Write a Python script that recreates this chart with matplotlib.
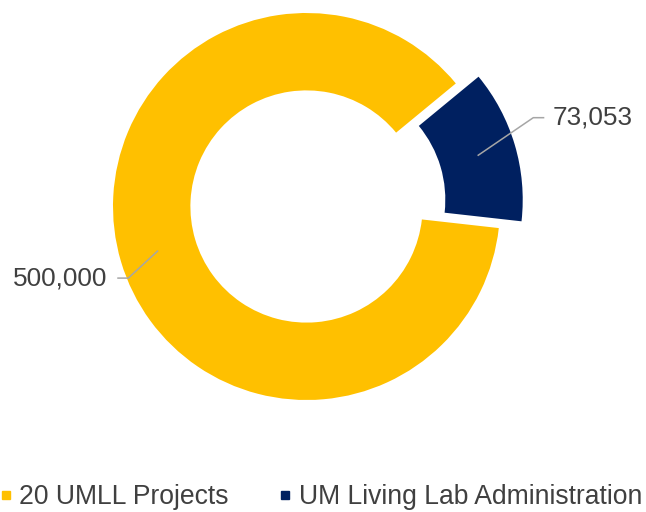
import numpy as np
import matplotlib
matplotlib.use("Agg")
import matplotlib.pyplot as plt
from matplotlib.lines import Line2D

categories = ["20 UMLL Projects", "UM Living Lab Administration"]
values = [500000, 73053]
value_labels = ["500,000", "73,053"]
colors = ["#FFC000", "#002060"]

plt.rcParams["font.family"] = ["Liberation Sans", "DejaVu Sans"]


def main():
    fig = plt.figure(figsize=(6.46, 5.12), dpi=100)
    ax = fig.add_axes([0, 0, 1, 1])

    explode = [0, 0.1225]
    wedges, _ = ax.pie(values, colors=colors, startangle=-6.4,
                       counterclock=False, explode=explode, radius=1.0,
                       wedgeprops=dict(width=0.4, linewidth=0))

    # pixel scale: 1 data unit = 193.5 px, pie centre at (306.5, 206.5)
    s = 193.5
    ax.set_xlim(-306.5 / s, (646 - 306.5) / s)
    ax.set_ylim(-(512 - 206.5) / s, 206.5 / s)
    ax.set_aspect("equal", adjustable="box")
    ax.axis("off")

    # leader lines and value labels
    elbows = [(-0.921, -0.370), (1.172, 0.459)]
    ends = [(-0.978, -0.370), (1.229, 0.459)]
    for w, lab, el, en in zip(wedges, value_labels, elbows, ends):
        mid = np.deg2rad((w.theta1 + w.theta2) / 2)
        cx, cy = w.center
        ax0 = cx + 0.8 * np.cos(mid)
        ay0 = cy + 0.8 * np.sin(mid)
        ax.plot([ax0, el[0], en[0]], [ay0, el[1], en[1]],
                color="#A6A6A6", lw=1.1, solid_capstyle="butt")
        if en[0] < 0:
            ax.text(en[0] - 0.05, en[1], lab, ha="right", va="center",
                    fontsize=18.8, color="#404040")
        else:
            ax.text(en[0] + 0.045, en[1], lab, ha="left", va="center",
                    fontsize=18.8, color="#404040")

    handles = [Line2D([], [], marker="s", ls="", color=c, markersize=5.2)
               for c in colors]
    fig.legend(handles, categories, loc="center left",
               bbox_to_anchor=(-0.6 / 646, 1 - 497 / 512), ncol=2,
               frameon=False, fontsize=19.1, labelcolor="#404040",
               handlelength=0.5, handletextpad=0.25, columnspacing=1.88,
               borderpad=0, borderaxespad=0)

    fig.savefig("out.png", dpi=100)


if __name__ == "__main__":
    main()
